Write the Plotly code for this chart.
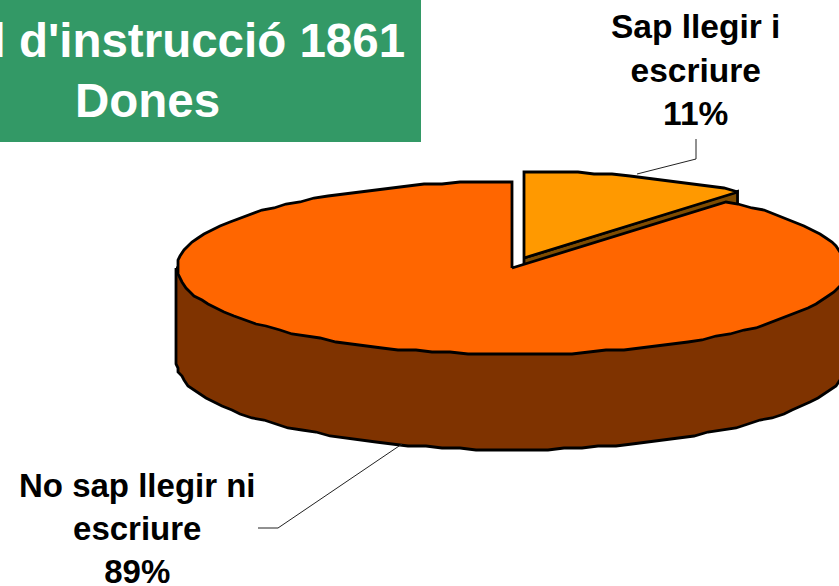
import numpy as np
import plotly.graph_objects as go

categories = ["Sap llegir i escriure", "No sap llegir ni escriure"]
shares = [11, 89]
title_lines = ["Nivell d'instrucció 1861", "Dones"]

W, H = 839, 586
RX, RY, DEPTH = 335, 86.5, 95
CX, CY = 512, 268       # large slice apex
EX, EY = 524, 258       # small exploded slice apex
STEP = 3.0
GRID = 2.0


def arc(cx, cy, t0, t1, dy=0):
    n = max(2, int(abs(t1 - t0) / STEP) + 1)
    t = np.radians(np.linspace(t0, t1, n))
    x = cx + RX * np.sin(t)
    y = cy - RY * np.cos(t) + dy
    # the reference outline is a coarse, pixel-snapped polygon
    return np.round(x / GRID) * GRID, np.round(y / GRID) * GRID


def poly(x, y, fill, width=2.8):
    fig.add_trace(go.Scatter(
        x=list(x), y=list(y), mode="lines", fill="toself", fillcolor=fill,
        line=dict(color="black", width=width), hoverinfo="skip", showlegend=False,
    ))


split = shares[0] / sum(shares) * 360
fig = go.Figure()

# side wall of the large slice; its upper edge is hidden under the top face
bx, by = arc(CX, CY, 270, 90, dy=DEPTH)
poly(np.r_[bx[0], bx, bx[-1], bx[0]], np.r_[CY, by, CY, CY], "#7F3300")

# cut wall of the small slice
sx = EX + RX * np.sin(np.radians(split))
sy = EY - RY * np.cos(np.radians(split))
poly([EX, sx, sx, EX, EX], [EY, sy, sy + DEPTH, EY + DEPTH, EY], "#7F4C00")

# top of the small slice
ax, ay = arc(EX, EY, 0, split)
poly(np.r_[EX, ax, EX], np.r_[EY, ay, EY], "#FF9900")

# top of the large slice
ax, ay = arc(CX, CY, split, 360)
poly(np.r_[CX, ax, CX], np.r_[CY, ay, CY], "#FF6600")

# leader lines
for lx, ly in (([637, 696, 696], [174, 159, 139]), ([402, 278, 258], [444, 528, 528])):
    fig.add_trace(go.Scatter(x=lx, y=ly, mode="lines", line=dict(color="#222222", width=1),
                             hoverinfo="skip", showlegend=False))

font = dict(family="Liberation Sans", color="black", size=33)
fig.add_annotation(x=695.5, y=69.5, text=f"<b>Sap llegir i<br>escriure<br>{shares[0]}%</b>",
                   showarrow=False, font=dict(font, size=33.5), align="center",
                   xanchor="center", yanchor="middle")
fig.add_annotation(x=137, y=528, text=f"<b>No sap llegir ni<br>escriure<br>{shares[1]}%</b>",
                   showarrow=False, font=font, align="center", xanchor="center", yanchor="middle")
title_font = dict(family="Liberation Sans", color="white", size=47.5)
for line, x, y in zip(title_lines, (142, 147), (40, 100)):
    fig.add_annotation(x=x, y=y, text=f"<b>{line}</b>", showarrow=False, font=title_font,
                       align="center", xanchor="center", yanchor="middle")

fig.update_layout(
    width=W, height=H, margin=dict(l=0, r=0, t=0, b=0),
    paper_bgcolor="white", plot_bgcolor="white", showlegend=False,
    xaxis=dict(range=[0, W], visible=False, fixedrange=True),
    yaxis=dict(range=[H, 0], visible=False, fixedrange=True),
    shapes=[dict(type="rect", x0=0, x1=421, y0=0, y1=142, fillcolor="#339966",
                 line=dict(width=0), layer="below")],
)
fig.write_html("out.html", config={"displayModeBar": False},
               post_script="document.body.style.margin='0';document.body.style.overflow='hidden';")
